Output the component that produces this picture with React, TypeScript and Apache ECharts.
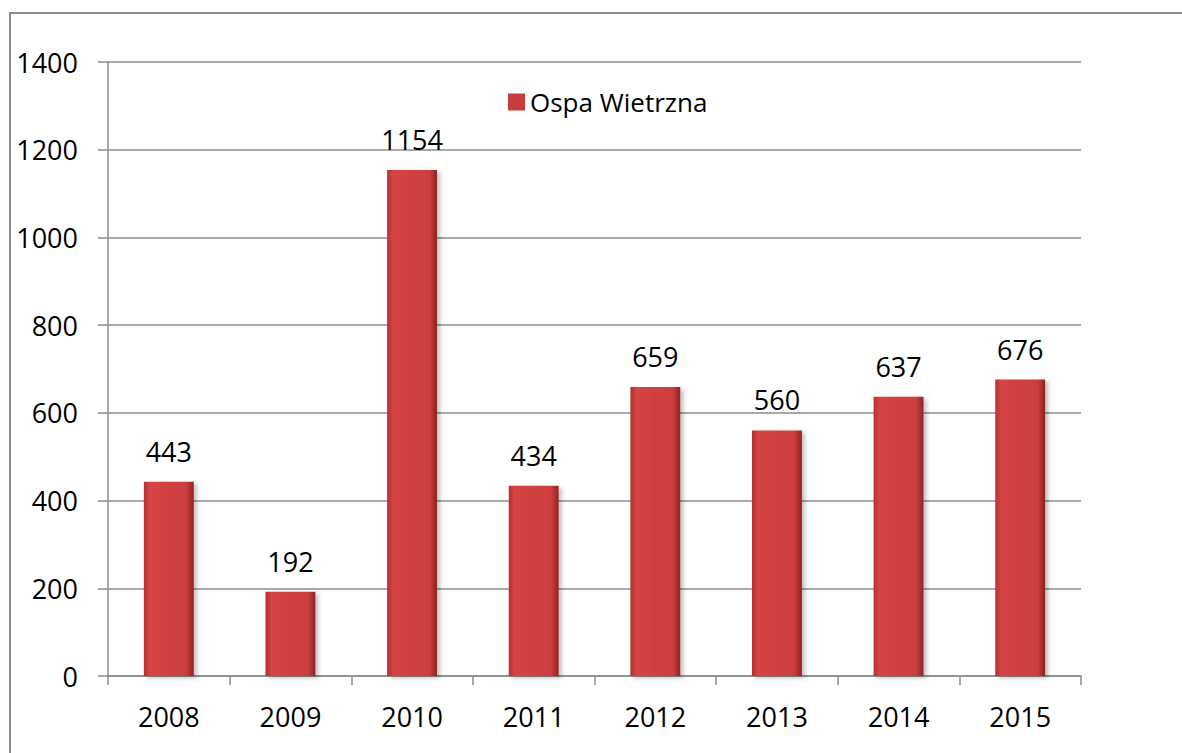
import React, { useEffect, useRef } from "react";
import * as echarts from "echarts";

const categories = ["2008", "2009", "2010", "2011", "2012", "2013", "2014", "2015"];
const values = [443, 192, 1154, 434, 659, 560, 637, 676];
const seriesName = "Ospa Wietrzna";
const yTicks = { min: 0, max: 1400, interval: 200 };

const FONT = "'Open Sans', 'Noto Sans', sans-serif";

export default function App() {
  const ref = useRef<HTMLDivElement>(null);
  useEffect(() => {
    if (!ref.current) return;
    const chart = echarts.init(ref.current, null, { renderer: "svg" });
    const barColor = new echarts.graphic.LinearGradient(0, 0, 1, 0, [
      { offset: 0, color: "#b33030" },
      { offset: 0.12, color: "#d64444" },
      { offset: 0.85, color: "#cc3e3e" },
      { offset: 1, color: "#8e2222" },
    ]);
    chart.setOption({
      animation: false,
      backgroundColor: "#ffffff",
      graphic: [
        {
          type: "rect",
          shape: { x: 10, y: 13, width: 1400, height: 1000 },
          style: { fill: "none", stroke: "#8c8c8c", lineWidth: 2 },
          silent: true,
          z: -10,
        },
      ],
      legend: {
        data: [seriesName],
        top: 84,
        left: 503,
        itemWidth: 17,
        itemHeight: 17,
        itemGap: 8,
        icon: "rect",
        textStyle: { fontFamily: FONT, fontSize: 26, color: "#000" },
        itemStyle: { color: "#c93c3c" },
      },
      grid: { left: 108, right: 101, top: 62, bottom: 77 },
      xAxis: {
        type: "category",
        data: categories,
        boundaryGap: true,
        axisLine: { lineStyle: { color: "#8c8c8c", width: 1.5 } },
        axisTick: { show: true, length: 9, alignWithLabel: false, lineStyle: { color: "#8c8c8c", width: 1.5 } },
        axisLabel: { margin: 27, fontFamily: FONT, fontSize: 27, color: "#000" },
      },
      yAxis: {
        type: "value",
        min: yTicks.min,
        max: yTicks.max,
        interval: yTicks.interval,
        axisLine: { show: true, lineStyle: { color: "#8c8c8c", width: 1.5 } },
        axisTick: { show: true, length: 10, lineStyle: { color: "#8c8c8c", width: 1.5 } },
        splitLine: { show: true, lineStyle: { color: "#8c8c8c", width: 1.5 } },
        axisLabel: {
          margin: 30,
          fontFamily: FONT,
          fontSize: 27,
          color: "#000",
          formatter: (v: number) => String(v),
        },
      },
      series: [
        {
          name: seriesName,
          type: "bar",
          data: values,
          barWidth: "41%",
          itemStyle: {
            color: barColor,
            shadowColor: "rgba(0,0,0,0.25)",
            shadowBlur: 4,
            shadowOffsetX: 3,
            shadowOffsetY: 2,
          },
          label: {
            show: true,
            position: "top",
            distance: 17,
            fontFamily: FONT,
            fontSize: 27,
            color: "#000",
          },
        },
      ],
    });
    return () => chart.dispose();
  }, []);
  return (
    <div
      ref={ref}
      style={{ width: 1182, height: 753, position: "absolute", left: 0, top: 0, overflow: "hidden" }}
    />
  );
}
